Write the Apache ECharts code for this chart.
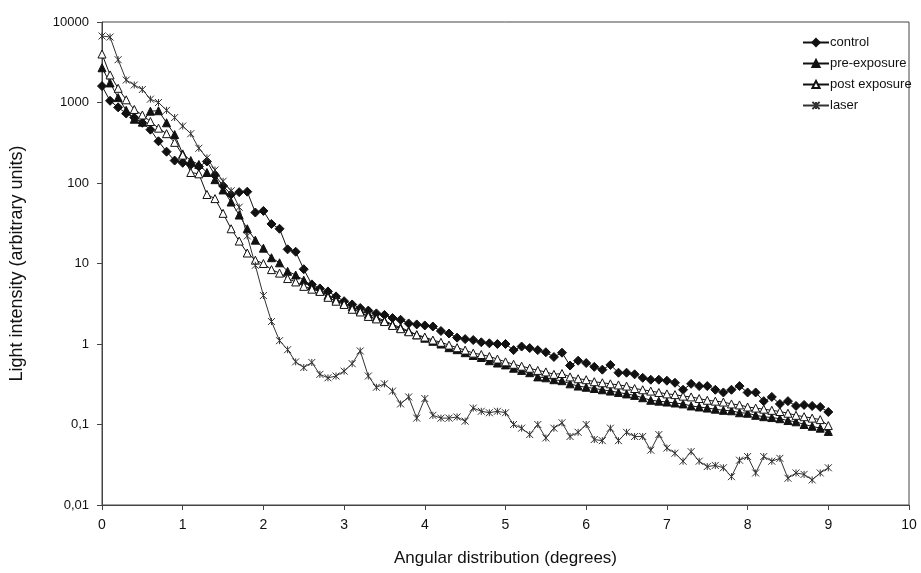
<!DOCTYPE html>
<html>
<head>
<meta charset="utf-8">
<script src="https://cdn.jsdelivr.net/npm/echarts@6/dist/echarts.min.js"></script>
<style>
html,body{margin:0;padding:0;background:#fff;}
#chart{width:921px;height:573px;}
</style>
</head>
<body>
<div id="chart"></div>
<script>
const angles = [0,0.1,0.2,0.3,0.4,0.5,0.6,0.7,0.8,0.9,1,1.1,1.2,1.3,1.4,1.5,1.6,1.7,1.8,1.9,2,2.1,2.2,2.3,2.4,2.5,2.6,2.7,2.8,2.9,3,3.1,3.2,3.3,3.4,3.5,3.6,3.7,3.8,3.9,4,4.1,4.2,4.3,4.4,4.5,4.6,4.7,4.8,4.9,5,5.1,5.2,5.3,5.4,5.5,5.6,5.7,5.8,5.9,6,6.1,6.2,6.3,6.4,6.5,6.6,6.7,6.8,6.9,7,7.1,7.2,7.3,7.4,7.5,7.6,7.7,7.8,7.9,8,8.1,8.2,8.3,8.4,8.5,8.6,8.7,8.8,8.9,9];

const control = [1600,1050,870,730,650,560,460,330,245,190,178,168,160,185,125,92,72,77,78,43,45,31,27,15,14,8.5,5.5,4.9,4.5,3.9,3.4,3.1,2.8,2.6,2.4,2.3,2.1,2.0,1.8,1.75,1.7,1.65,1.45,1.35,1.2,1.15,1.12,1.05,1.02,1.0,1.0,0.84,0.93,0.89,0.84,0.79,0.69,0.78,0.54,0.62,0.58,0.52,0.48,0.55,0.44,0.44,0.42,0.38,0.36,0.36,0.35,0.33,0.27,0.32,0.30,0.30,0.27,0.25,0.27,0.30,0.25,0.25,0.195,0.22,0.18,0.195,0.17,0.175,0.17,0.165,0.143];

const preExposure = [2700,1750,1150,800,620,570,780,790,560,400,230,190,170,135,110,82,58,40,27,19.5,15.5,11.8,10.2,8,7.2,6.2,5.3,4.6,4.0,3.6,3.2,2.9,2.6,2.35,2.15,1.95,1.75,1.6,1.45,1.3,1.18,1.08,1.0,0.9,0.85,0.78,0.72,0.68,0.62,0.58,0.55,0.5,0.47,0.44,0.39,0.38,0.36,0.35,0.32,0.3,0.29,0.28,0.27,0.26,0.25,0.24,0.23,0.215,0.2,0.195,0.19,0.185,0.18,0.17,0.165,0.16,0.155,0.15,0.148,0.14,0.138,0.13,0.125,0.122,0.118,0.112,0.108,0.1,0.095,0.09,0.082];

const postExposure = [4000,2200,1500,1080,820,700,580,480,410,320,222,135,130,72,64,42,27,19,13.5,11,10,8.4,7.6,6.5,5.9,5.2,4.8,4.5,3.8,3.4,3.1,2.7,2.5,2.2,2.05,1.9,1.7,1.55,1.42,1.3,1.22,1.12,1.05,0.97,0.9,0.84,0.77,0.74,0.7,0.65,0.6,0.56,0.53,0.5,0.47,0.45,0.42,0.43,0.39,0.37,0.36,0.34,0.33,0.32,0.31,0.3,0.28,0.27,0.26,0.25,0.24,0.235,0.225,0.22,0.21,0.2,0.195,0.19,0.18,0.175,0.165,0.16,0.155,0.15,0.145,0.138,0.13,0.125,0.12,0.115,0.097];

const laser = [6700,6500,3400,1900,1650,1450,1100,1000,800,650,510,410,270,205,145,105,80,50,22,9.5,4,1.9,1.1,0.85,0.6,0.51,0.59,0.42,0.38,0.4,0.46,0.57,0.82,0.4,0.29,0.32,0.26,0.18,0.22,0.12,0.21,0.13,0.12,0.12,0.124,0.11,0.16,0.146,0.14,0.146,0.14,0.1,0.09,0.075,0.1,0.068,0.09,0.105,0.071,0.08,0.1,0.065,0.063,0.09,0.063,0.08,0.071,0.071,0.048,0.075,0.051,0.044,0.035,0.046,0.035,0.03,0.031,0.029,0.0225,0.036,0.04,0.025,0.04,0.035,0.038,0.0215,0.025,0.024,0.0205,0.025,0.029];

const seriesNames = ['control','pre-exposure','post exposure','laser'];
const yTicks = ['0,01','0,1','1','10','100','1000','10000'];

const FONT = 'Liberation Sans, Arial, sans-serif';
const pair = arr => angles.map((a,i)=>[a,arr[i]]);
const starPath = 'path://M0,0L10,10M10,0L0,10M5,0L5,10';

const chart = echarts.init(document.getElementById('chart'), null, {renderer:'canvas'});
chart.setOption({
  animation:false,
  backgroundColor:'#fff',
  grid:{left:102,right:12,top:22,bottom:68,show:true,borderColor:'#444',borderWidth:1,containLabel:false},
  legend:{
    orient:'vertical', left:797, top:31, itemWidth:26, itemHeight:9, itemGap:8,
    textStyle:{fontFamily:FONT,fontSize:13,color:'#111',padding:[0,0,0,-4]},
    data:seriesNames
  },
  xAxis:{
    type:'value', min:0, max:10, interval:1,
    name:'Angular distribution (degrees)', nameLocation:'middle', nameGap:45,
    nameTextStyle:{fontFamily:FONT,fontSize:17,color:'#111'},
    axisLine:{show:true,onZero:false,lineStyle:{color:'#444',width:1}},
    axisTick:{show:true,inside:false,length:5,lineStyle:{color:'#444'}},
    axisLabel:{fontFamily:FONT,fontSize:14,color:'#111',margin:13},
    splitLine:{show:false}
  },
  yAxis:{
    type:'log', logBase:10, min:0.01, max:10000,
    name:'Light intensity (arbitrary units)', nameLocation:'middle', nameGap:76,
    nameTextStyle:{fontFamily:FONT,fontSize:18,color:'#111'},
    axisLine:{show:true,lineStyle:{color:'#444',width:1}},
    axisTick:{show:true,inside:false,length:5,lineStyle:{color:'#444'}},
    axisLabel:{fontFamily:FONT,fontSize:13,color:'#111',margin:13,
      formatter:function(v){ const idx = Math.round(Math.log10(v))+2; return yTicks[idx] !== undefined ? yTicks[idx] : ''; }},
    splitLine:{show:false},
    minorTick:{show:false}
  },
  series:[
    {name:seriesNames[0],type:'line',data:pair(control),symbol:'diamond',symbolSize:9,
     lineStyle:{color:'#111',width:1},itemStyle:{color:'#111',borderColor:'#111',borderWidth:1}},
    {name:seriesNames[1],type:'line',data:pair(preExposure),symbol:'triangle',symbolSize:8,
     lineStyle:{color:'#111',width:1},itemStyle:{color:'#111',borderColor:'#111',borderWidth:1}},
    {name:seriesNames[2],type:'line',data:pair(postExposure),symbol:'triangle',symbolSize:8,
     lineStyle:{color:'#111',width:1},itemStyle:{color:'#fff',borderColor:'#111',borderWidth:1}},
    {name:seriesNames[3],type:'line',data:pair(laser),symbol:starPath,symbolSize:7,
     lineStyle:{color:'#333',width:1},itemStyle:{color:'none',borderColor:'#333',borderWidth:1}}
  ]
});
</script>
</body>
</html>
